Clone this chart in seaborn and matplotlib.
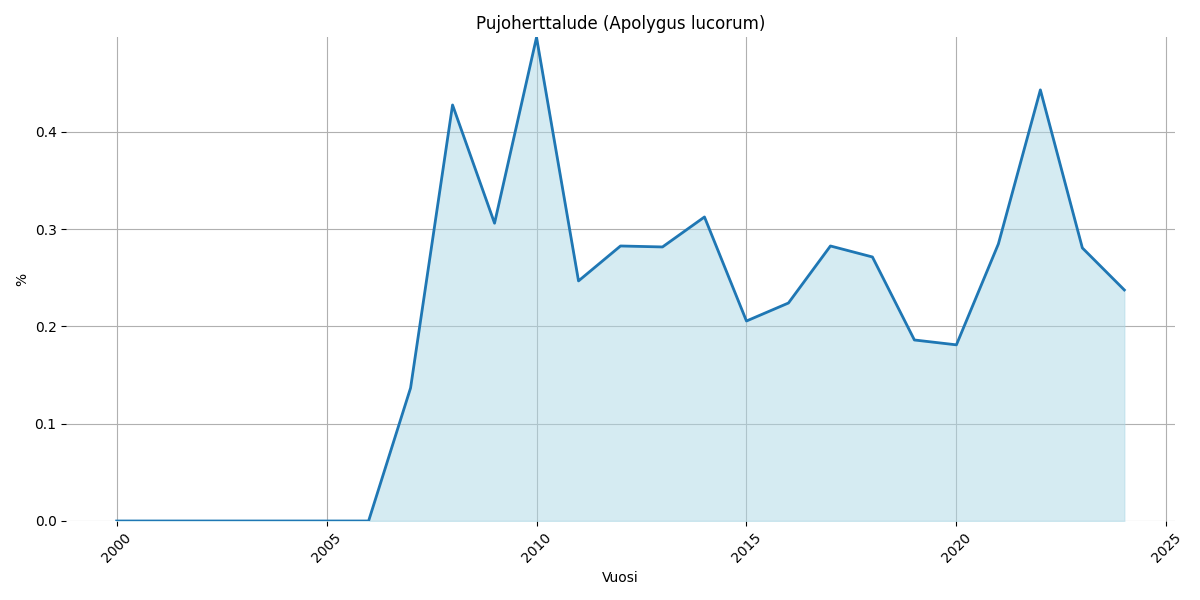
import matplotlib
matplotlib.use('Agg')
import matplotlib.pyplot as plt
import seaborn as sns
import pandas as pd

years = list(range(2000, 2025))
values = [0.0, 0.0, 0.0, 0.0, 0.0, 0.0, 0.0,
          0.1367, 0.4275, 0.306, 0.497, 0.2467, 0.2826, 0.2816, 0.3124,
          0.2055, 0.224, 0.2826, 0.2713, 0.186, 0.181, 0.2847, 0.443,
          0.2806, 0.2374]

df = pd.DataFrame({'Vuosi': years, '%': values})

fig, ax = plt.subplots(figsize=(12, 6), dpi=100)
sns.lineplot(x='Vuosi', y='%', data=df, color='#1f77b4', linewidth=2, ax=ax)
ax.fill_between(df['Vuosi'], df['%'], color='lightblue', alpha=0.5)
ax.set_ylim(0, df['%'].max())
ax.set_title('Pujoherttalude (Apolygus lucorum)')
ax.set_xlabel('Vuosi')
ax.set_ylabel('%')
ax.grid(True, color='#b0b0b0')
ax.set_axisbelow(True)
for s in ax.spines.values():
    s.set_visible(False)
plt.xticks(rotation=45)
plt.tight_layout()
fig.savefig('out.png', dpi=100)
